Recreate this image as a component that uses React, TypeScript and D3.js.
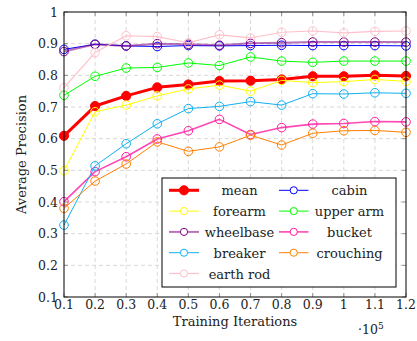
import React from "react";
import * as d3 from "d3";

const iterations = [10000, 20000, 30000, 40000, 50000, 60000, 70000, 80000, 90000, 100000, 110000, 120000];
const xTicks = iterations;
const yTicks = [0.1, 0.2, 0.3, 0.4, 0.5, 0.6, 0.7, 0.8, 0.9, 1];

const mean = [0.609, 0.703, 0.735, 0.762, 0.771, 0.782, 0.783, 0.787, 0.797, 0.797, 0.8, 0.798];
const cabin = [0.882, 0.898, 0.893, 0.891, 0.894, 0.893, 0.894, 0.895, 0.894, 0.894, 0.894, 0.893];
const forearm = [0.499, 0.685, 0.706, 0.735, 0.757, 0.769, 0.75, 0.784, 0.777, 0.78, 0.787, 0.781];
const upperArm = [0.737, 0.797, 0.823, 0.825, 0.839, 0.831, 0.858, 0.845, 0.841, 0.845, 0.845, 0.845];
const wheelbase = [0.875, 0.898, 0.893, 0.9, 0.898, 0.895, 0.901, 0.903, 0.905, 0.905, 0.905, 0.905];
const bucket = [0.401, 0.496, 0.543, 0.599, 0.625, 0.661, 0.613, 0.635, 0.646, 0.648, 0.654, 0.653];
const breaker = [0.327, 0.514, 0.584, 0.647, 0.695, 0.702, 0.717, 0.706, 0.742, 0.741, 0.745, 0.743];
const crouching = [0.38, 0.466, 0.52, 0.59, 0.56, 0.574, 0.611, 0.58, 0.617, 0.625, 0.626, 0.62];
const earthRod = [0.761, 0.872, 0.925, 0.922, 0.903, 0.928, 0.918, 0.936, 0.94, 0.934, 0.939, 0.94];

const series = [
  { name: "mean", values: mean, color: "#ff0000", width: 3, filled: true, opacity: 1 },
  { name: "cabin", values: cabin, color: "#0000ff", width: 1, filled: false, opacity: 1 },
  { name: "forearm", values: forearm, color: "#ffff00", width: 1, filled: false, opacity: 1 },
  { name: "upper arm", values: upperArm, color: "#00ff00", width: 1, filled: false, opacity: 1 },
  { name: "wheelbase", values: wheelbase, color: "#800080", width: 2, filled: false, opacity: 0.55 },
  { name: "bucket", values: bucket, color: "#ff1aa0", width: 1.6, filled: false, opacity: 0.8 },
  { name: "breaker", values: breaker, color: "#10b0f0", width: 1, filled: false, opacity: 1 },
  { name: "crouching", values: crouching, color: "#ff8000", width: 1, filled: false, opacity: 1 },
  { name: "earth rod", values: earthRod, color: "#ffc0cb", width: 1.2, filled: false, opacity: 1 },
];

const W = 417;
const H = 341;
const margin = { top: 12, right: 11, bottom: 44, left: 64 };
const font = "'DejaVu Serif', serif";

export default function App() {
  const x = d3
    .scaleLinear()
    .domain([10000, 120000])
    .range([margin.left, W - margin.right]);
  const y = d3
    .scaleLinear()
    .domain([0.1, 1])
    .range([H - margin.bottom, margin.top]);

  const line = d3
    .line<number>()
    .x((_, i) => x(iterations[i]))
    .y((d) => y(d));

  const x0 = x.range()[0];
  const x1 = x.range()[1];
  const y0 = y.range()[0];
  const y1 = y.range()[1];
  const tickLen = 4;

  const fmtX = (v: number) => String(+(v / 1e5).toFixed(1));
  const fmtY = (v: number) => String(+v.toFixed(1));

  // legend layout
  const lg = { left: 162, top: 178, right: 396, bottom: 287 };
  const rowY0 = 190.3;
  const rowStep = 20.8;
  const cols = [
    { lineA: 169, lineB: 199, textX: 239.5 },
    { lineA: 279, lineB: 308.5, textX: 349.5 },
  ];

  return (
    <svg
      width={W}
      height={H}
      style={{ position: "absolute", left: 0, top: 0, background: "#fff", fontFamily: font }}
    >
      {/* grid */}
      <g stroke="#d4d4d4" strokeWidth={0.9} strokeDasharray="4,3">
        {xTicks.slice(1, -1).map((t) => (
          <line key={"gx" + t} x1={x(t)} x2={x(t)} y1={y0} y2={y1} />
        ))}
        {yTicks.slice(1, -1).map((t) => (
          <line key={"gy" + t} x1={x0} x2={x1} y1={y(t)} y2={y(t)} />
        ))}
      </g>

      {/* ticks on all sides */}
      <g stroke="#808080" strokeWidth={0.8}>
        {xTicks.map((t) => (
          <g key={"tx" + t}>
            <line x1={x(t)} x2={x(t)} y1={y0} y2={y0 - tickLen} />
            <line x1={x(t)} x2={x(t)} y1={y1} y2={y1 + tickLen} />
          </g>
        ))}
        {yTicks.map((t) => (
          <g key={"ty" + t}>
            <line x1={x0} x2={x0 + tickLen} y1={y(t)} y2={y(t)} />
            <line x1={x1} x2={x1 - tickLen} y1={y(t)} y2={y(t)} />
          </g>
        ))}
      </g>

      {/* series */}
      {series.map((s) => (
        <g key={s.name}>
          <path
            d={line(s.values) || ""}
            fill="none"
            stroke={s.color}
            strokeWidth={s.width}
            strokeOpacity={s.opacity}
            strokeLinejoin="round"
          />
          {s.values.map((v, i) => (
            <circle
              key={i}
              cx={x(iterations[i])}
              cy={y(v)}
              r={s.filled ? 4.6 : 4.3}
              fill={s.filled ? s.color : "none"}
              stroke={s.color}
              strokeWidth={1}
            />
          ))}
        </g>
      ))}

      {/* frame */}
      <rect
        x={x0}
        y={y1}
        width={x1 - x0}
        height={y0 - y1}
        fill="none"
        stroke="#000"
        strokeWidth={1}
      />

      {/* tick labels */}
      <g fontSize={12.5} fill="#222">
        {xTicks.map((t) => (
          <text key={"lx" + t} x={x(t)} y={y0 + 12} textAnchor="middle">
            {fmtX(t)}
          </text>
        ))}
        {yTicks.map((t) => (
          <text key={"ly" + t} x={x0 - 6} y={y(t) + 4.5} textAnchor="end">
            {fmtY(t)}
          </text>
        ))}
      </g>

      {/* axis labels */}
      <text
        x={(x0 + x1) / 2}
        y={326}
        textAnchor="middle"
        fontSize={13}
        fill="#222"
      >
        Training Iterations
      </text>
      <text x={358} y={334} fontSize={12.5} fill="#222">
        ·10
        <tspan fontSize={9} dy={-5}>
          5
        </tspan>
      </text>
      <text
        transform={`translate(26,${(y0 + y1) / 2}) rotate(-90)`}
        textAnchor="middle"
        fontSize={13}
        fill="#222"
      >
        Average Precision
      </text>

      {/* legend */}
      <rect
        x={lg.left}
        y={lg.top}
        width={lg.right - lg.left}
        height={lg.bottom - lg.top}
        fill="#fff"
        stroke="#000"
        strokeWidth={1}
      />
      {series.map((s, i) => {
        const c = cols[i % 2];
        const ry = rowY0 + Math.floor(i / 2) * rowStep;
        const mx = (c.lineA + c.lineB) / 2;
        return (
          <g key={"lg" + s.name}>
            <line
              x1={c.lineA}
              x2={c.lineB}
              y1={ry}
              y2={ry}
              stroke={s.color}
              strokeWidth={s.width}
              strokeOpacity={s.opacity}
            />
            <circle
              cx={mx}
              cy={ry}
              r={s.filled ? 4.6 : 3.6}
              fill={s.filled ? s.color : "#fff"}
              stroke={s.color}
              strokeWidth={1}
            />
            <text
              x={c.textX}
              y={ry + 5}
              textAnchor="middle"
              fontSize={13}
              fill="#222"
            >
              {s.name}
            </text>
          </g>
        );
      })}
    </svg>
  );
}
